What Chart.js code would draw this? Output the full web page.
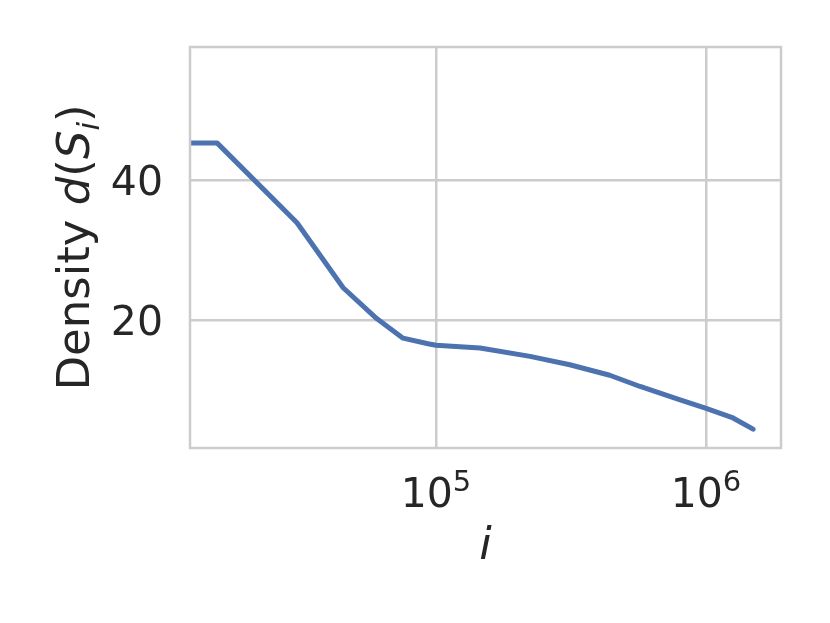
<!DOCTYPE html>
<html>
<head>
<meta charset="utf-8">
<script src="https://cdn.jsdelivr.net/npm/chart.js@4"></script>
<style>
  html, body { margin: 0; padding: 0; background: #ffffff; }
  #wrap { width: 830px; height: 623px; }
</style>
</head>
<body>
<div id="wrap"><canvas id="densityChart" width="830" height="623"></canvas></div>
<script>
// values
const sizes = [12300, 15450, 30560, 45300, 60300, 75500, 93400, 100000, 145600, 223000, 313000, 440000, 570000, 802000, 995000, 1259000, 1494000];
const density = [45.3, 45.3, 33.9, 24.6, 20.2, 17.4, 16.6, 16.4, 16.0, 14.8, 13.6, 12.1, 10.5, 8.6, 7.4, 6.0, 4.4];
const yTicks = [20, 40];
const xTickExps = [5, 6];

const FONT = "'DejaVu Sans', sans-serif";
const TEXT = "#262626";
const GRID = "#cccccc";
const LINE = "#4c72b0";

const frameAndLabels = {
  id: "frameAndLabels",
  afterDraw(chart) {
    const { ctx, chartArea: a, scales } = chart;
    ctx.save();

    // full axes frame
    ctx.strokeStyle = GRID;
    ctx.lineWidth = 2.5;
    ctx.strokeRect(a.left, a.top, a.right - a.left, a.bottom - a.top);

    ctx.fillStyle = TEXT;
    ctx.textBaseline = "alphabetic";

    // y tick labels
    ctx.font = `41px ${FONT}`;
    ctx.textAlign = "right";
    yTicks.forEach((v) => {
      const py = scales.y.getPixelForValue(v);
      ctx.fillText(String(v), a.left - 27, py + 15);
    });

    // x tick labels as 10^n
    ctx.textAlign = "left";
    xTickExps.forEach((exp) => {
      const px = scales.x.getPixelForValue(Math.pow(10, exp));
      ctx.font = `41px ${FONT}`;
      const w1 = ctx.measureText("10").width;
      ctx.font = `29px ${FONT}`;
      const w2 = ctx.measureText(String(exp)).width;
      const start = px - (w1 + w2) / 2;
      ctx.font = `41px ${FONT}`;
      ctx.fillText("10", start, 507);
      ctx.font = `29px ${FONT}`;
      ctx.fillText(String(exp), start + w1, 491);
    });

    // x axis title
    ctx.font = `italic 45px ${FONT}`;
    ctx.textAlign = "center";
    ctx.fillText("i", (a.left + a.right) / 2, 559);

    // y axis title: Density d(S_i)
    const parts = [
      { t: "Density ", f: `45px ${FONT}`, dy: 0 },
      { t: "d", f: `italic 45px ${FONT}`, dy: 0 },
      { t: "(", f: `45px ${FONT}`, dy: 0 },
      { t: "S", f: `italic 45px ${FONT}`, dy: 0 },
      { t: "i", f: `italic 31px ${FONT}`, dy: 10 },
      { t: ")", f: `45px ${FONT}`, dy: 0 },
    ];
    let total = 0;
    parts.forEach((p) => {
      ctx.font = p.f;
      p.w = ctx.measureText(p.t).width;
      total += p.w;
    });
    ctx.translate(89, (a.top + a.bottom) / 2);
    ctx.rotate(-Math.PI / 2);
    ctx.textAlign = "left";
    let x = -total / 2;
    parts.forEach((p) => {
      ctx.font = p.f;
      ctx.fillText(p.t, x, p.dy);
      x += p.w;
    });

    ctx.restore();
  },
};

const ctx = document.getElementById("densityChart").getContext("2d");
new Chart(ctx, {
  type: "line",
  data: {
    datasets: [
      {
        data: sizes.map((s, i) => ({ x: s, y: density[i] })),
        borderColor: LINE,
        borderWidth: 5,
        borderCapStyle: "round",
        borderJoinStyle: "round",
        pointRadius: 0,
        tension: 0,
        fill: false,
      },
    ],
  },
  options: {
    responsive: false,
    animation: false,
    devicePixelRatio: 1,
    layout: { padding: { top: 47, right: 49, left: 0, bottom: 0 } },
    plugins: { legend: { display: false }, tooltip: { enabled: false } },
    scales: {
      x: {
        type: "logarithmic",
        min: 12271,
        max: 1895600,
        afterBuildTicks: (axis) => {
          axis.ticks = xTickExps.map((e) => ({ value: Math.pow(10, e) }));
        },
        afterFit: (axis) => { axis.height = 175; },
        grid: { color: GRID, lineWidth: 2.5, drawTicks: false },
        border: { display: false },
        ticks: { display: false },
      },
      y: {
        min: 1.71,
        max: 59.0,
        afterBuildTicks: (axis) => {
          axis.ticks = yTicks.map((v) => ({ value: v }));
        },
        afterFit: (axis) => { axis.width = 190; },
        grid: { color: GRID, lineWidth: 2.5, drawTicks: false },
        border: { display: false },
        ticks: { display: false },
      },
    },
  },
  plugins: [frameAndLabels],
});
</script>
</body>
</html>
